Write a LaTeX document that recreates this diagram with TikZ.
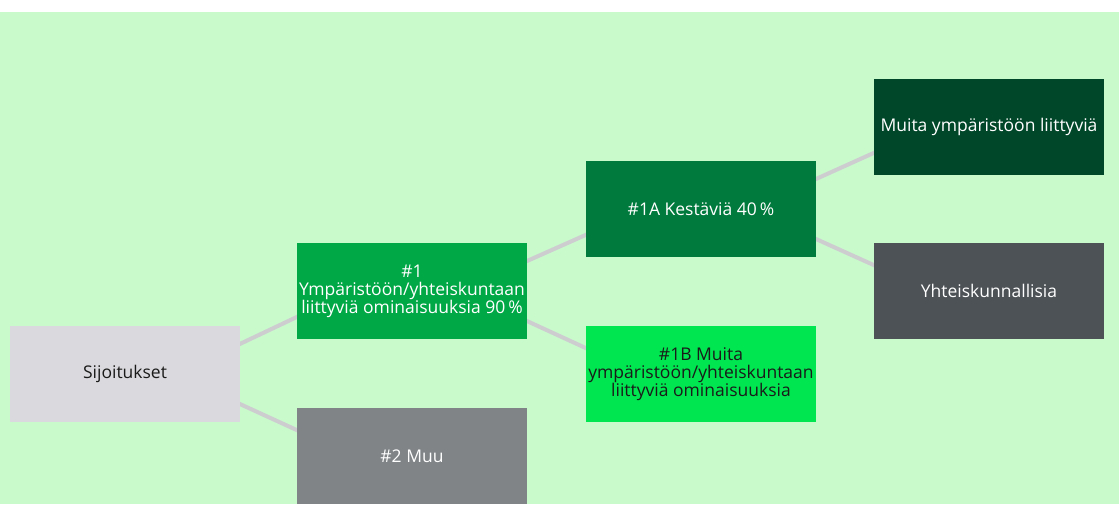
\documentclass[tikz,border=0pt]{standalone}
\usepackage{fontspec}
\setmainfont{Open Sans}
\usetikzlibrary{calc}
\definecolor{bggreen}{HTML}{C8FACC}
\definecolor{sijgray}{HTML}{DADADE}
\definecolor{gone}{HTML}{00A846}
\definecolor{gtwo}{HTML}{808487}
\definecolor{gonea}{HTML}{007A3D}
\definecolor{goneb}{HTML}{00E650}
\definecolor{gmuita}{HTML}{00472A}
\definecolor{gyht}{HTML}{4D5257}
\definecolor{conncol}{HTML}{CDCDD0}
\definecolor{darktext}{HTML}{1A1A1A}
\pgfdeclarelayer{bg}
\pgfdeclarelayer{lines}
\pgfsetlayers{bg,lines,main}
\tikzset{
  box/.style={rectangle, minimum width=230pt, minimum height=96pt, inner sep=0pt,
    align=center, font=\fontsize{17.5}{18}\selectfont},
  conn/.style={draw=conncol, line width=4pt}
}
\begin{document}
\begin{tikzpicture}[x=1pt,y=-1pt]
\begin{pgfonlayer}{bg}
\fill[white] (0,0) rectangle (1119,504);
\fill[bggreen] (0,12) rectangle (1119,504);
\end{pgfonlayer}
\useasboundingbox (0,0) rectangle (1119,504);
\node[box, fill=sijgray, text=darktext] (sij) at (125,374) {Sijoitukset};
\node[box, fill=gone, text=white] (n1) at (412,291) {\#1\\Ympäristöön/yhteiskuntaan\\liittyviä ominaisuuksia 90\,\%};
\node[box, fill=gtwo, text=white] (n2) at (412,456) {\#2 Muu};
\node[box, fill=gonea, text=white] (n1a) at (701,209) {\#1A Kestäviä 40\,\%};
\node[box, fill=goneb, text=darktext] (n1b) at (701,374) {\#1B Muita\\ympäristöön/yhteiskuntaan\\liittyviä ominaisuuksia};
\node[box, fill=gmuita, text=white] (muita) at (989,127) {Muita ympäristöön liittyviä};
\node[box, fill=gyht, text=white] (yht) at (989,291) {Yhteiskunnallisia};
\begin{pgfonlayer}{lines}
\draw[conn] ($(sij.north east)+(-4,22-2.1)$) -- ($(n1.south west)+(4,-22-2.1)$);
\draw[conn] ($(sij.south east)+(-4,-22+2.1)$) -- ($(n2.north west)+(4,22+2.1)$);
\draw[conn] ($(n1.north east)+(-4,22-2.1)$) -- ($(n1a.south west)+(4,-22-2.1)$);
\draw[conn] ($(n1.south east)+(-4,-22+2.1)$) -- ($(n1b.north west)+(4,22+2.1)$);
\draw[conn] ($(n1a.north east)+(-4,22-2.1)$) -- ($(muita.south west)+(4,-22-2.1)$);
\draw[conn] ($(n1a.south east)+(-4,-22+2.1)$) -- ($(yht.north west)+(4,22+2.1)$);
\end{pgfonlayer}
\end{tikzpicture}
\end{document}
